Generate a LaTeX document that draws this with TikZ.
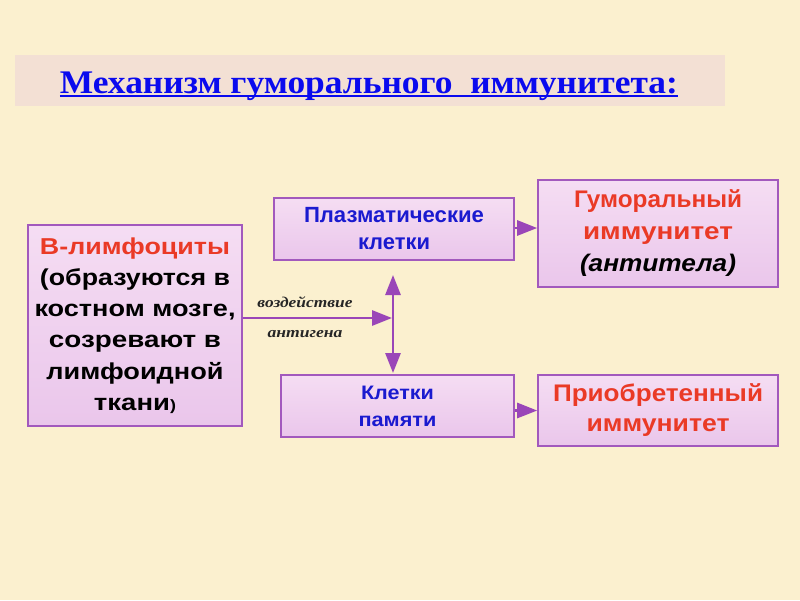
\documentclass[tikz,border=0pt]{standalone}
\usepackage{fontspec}
\setmainfont{Liberation Sans}
\newfontfamily\seriffont{Liberation Serif}
\usetikzlibrary{arrows.meta}
\definecolor{bgc}{HTML}{FBF0CF}
\definecolor{bandc}{HTML}{F3E0D4}
\definecolor{boxedge}{HTML}{A259BD}
\definecolor{boxtop}{HTML}{F5DDF3}
\definecolor{boxbot}{HTML}{EAC6EB}
\definecolor{redtxt}{HTML}{EA3A26}
\definecolor{bluetxt}{HTML}{1A1ACF}
\definecolor{titleblue}{HTML}{0A0AEE}
\definecolor{arrowc}{HTML}{9A46B8}
\newcommand\fitw[2]{\resizebox{#1pt}{\height}{#2}}
\tikzset{
  box/.style={draw=boxedge, line width=1.6pt, top color=boxtop, bottom color=boxbot,
    align=center, inner sep=2pt, font=\bfseries},
  conn/.style={draw=arrowc, line width=2.8pt,
    -{Triangle[length=20pt,width=15pt,fill=arrowc]}},
  lbl/.style={font=\seriffont\bfseries\itshape\fontsize{15}{16}\selectfont, text=black!85, inner sep=0pt}
}
\begin{document}
\begin{tikzpicture}[x=1pt,y=-1pt]
\fill[bgc] (0,0) rectangle (800,600);
\useasboundingbox (0,0) rectangle (800,600);
\fill[bandc] (15,55) rectangle (725,106);
\node[inner sep=0pt, text=titleblue, anchor=base] (title) at (369,93)
  {\resizebox{618pt}{\height}{\seriffont\bfseries\fontsize{33}{36}\selectfont Механизм гуморального\ \ иммунитета:}};
\draw[titleblue, line width=1.8pt] ([yshift=-3pt]title.base west) -- ([yshift=-3pt]title.base east);

\node[box, minimum width=214pt, minimum height=201pt, font=\bfseries\fontsize{23}{31.3}\selectfont] (bcell) at (135,325.5)
  {\fitw{190}{\textcolor{redtxt}{В-лимфоциты}}\\\fitw{190}{(образуются в}\\\fitw{201}{костном мозге,}\\\fitw{172}{созревают в}\\\fitw{177}{лимфоидной}\\\fitw{82}{ткани{\fontsize{15}{15}\selectfont)}}};
\node[box, minimum width=240pt, minimum height=62pt, text=bluetxt, font=\bfseries\fontsize{22}{27}\selectfont] (plasma) at (394,229)
  {\fitw{180}{Плазматические}\\\fitw{72}{клетки}};
\node[box, minimum width=233pt, minimum height=62pt, text=bluetxt, font=\bfseries\fontsize{19.5}{27}\selectfont] (memory) at (397.5,406)
  {\fitw{73}{Клетки}\\\fitw{78}{памяти}};
\node[box, minimum width=240pt, minimum height=107pt, text=redtxt, font=\bfseries\fontsize{24}{32}\selectfont] (humoral) at (658,233.5)
  {\fitw{168}{Гуморальный}\\\fitw{150}{иммунитет}\\\fitw{156}{\textcolor{black}{\itshape(антитела)}}};
\node[box, minimum width=240pt, minimum height=71pt, text=redtxt, font=\bfseries\fontsize{24}{30}\selectfont] (acquired) at (658,410.5)
  {\fitw{210}{Приобретенный}\\\fitw{143}{иммунитет}};

\coordinate (jn) at (393,318);
\coordinate (uptip) at (393,275);
\coordinate (dntip) at (393,373);
\draw[conn] (jn -| bcell.east) -- ([xshift=-1pt]jn);
\draw[conn] (jn) -- (uptip);
\draw[conn] (jn) -- (dntip);
\draw[conn] ([yshift=1pt]plasma.east) -- ([yshift=1pt]plasma.east -| humoral.west);
\draw[conn] (memory.east |- acquired.west) -- (acquired.west);

\node[lbl] (lb1) at (305,302) {\fitw{95}{воздействие}};
\node[lbl] (lb2) at (305,334) {\fitw{75}{антигена}};
\end{tikzpicture}
\end{document}
